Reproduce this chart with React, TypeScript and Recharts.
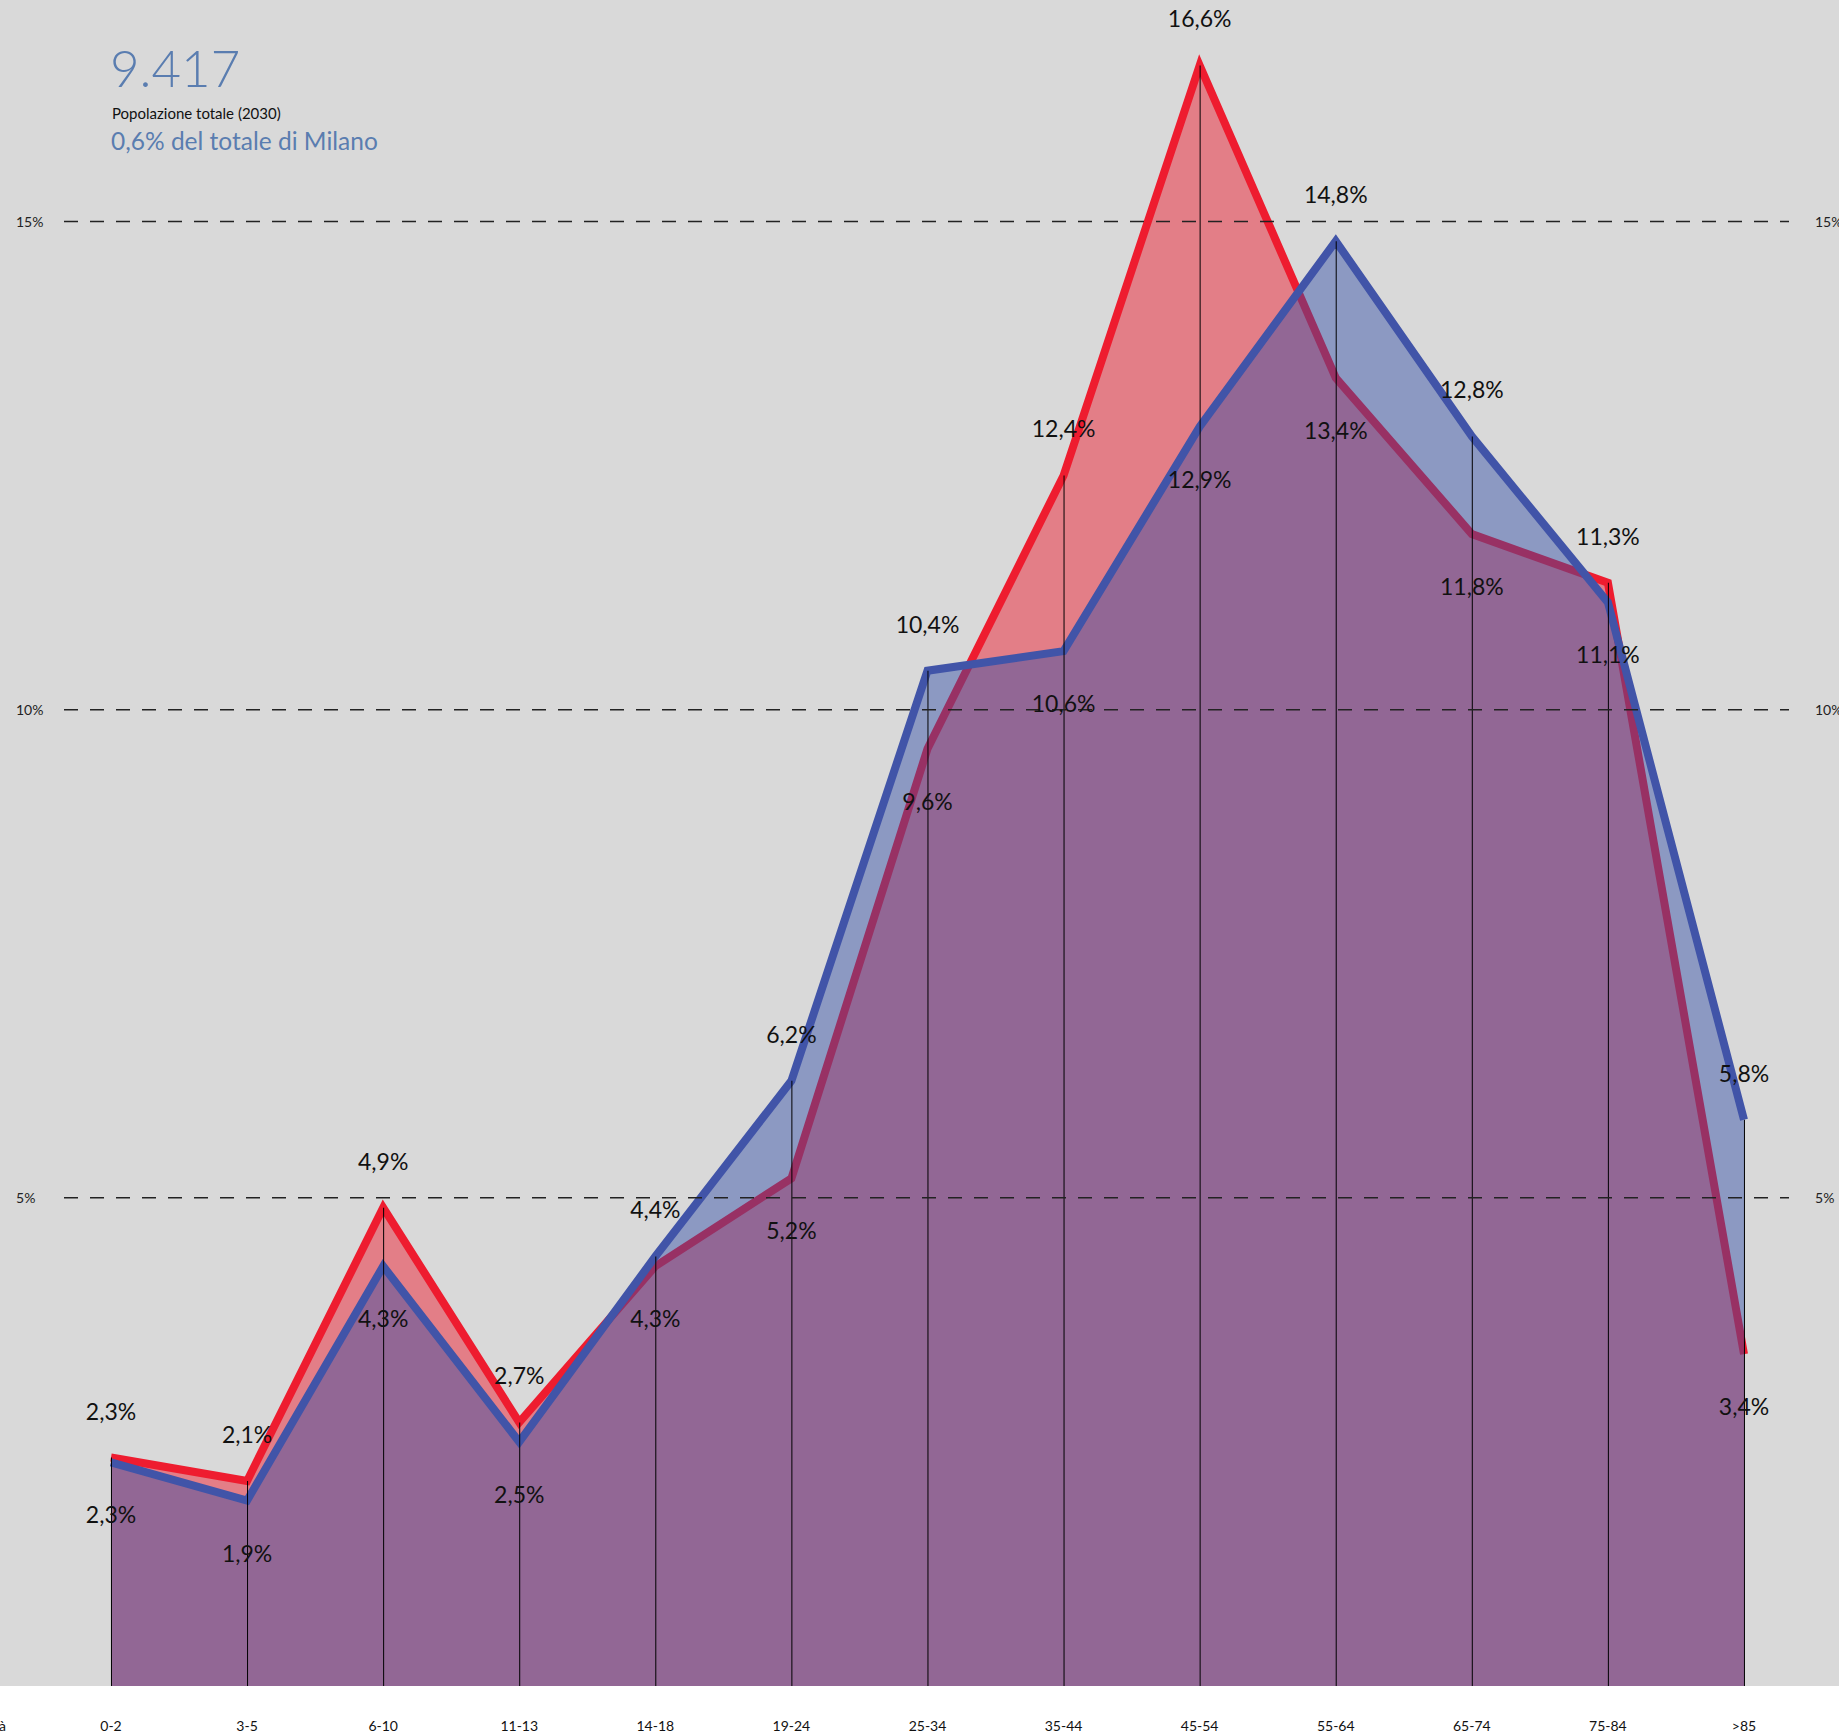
import React from 'react';
import { ComposedChart, Area, Bar, XAxis, YAxis, LabelList, ReferenceLine } from 'recharts';

const categories = ['0-2', '3-5', '6-10', '11-13', '14-18', '19-24', '25-34', '35-44', '45-54', '55-64', '65-74', '75-84', '>85'];
const redValues = [2.34, 2.1, 4.9, 2.7, 4.3, 5.2, 9.6, 12.4, 16.6, 13.4, 11.8, 11.3, 3.4];
const blueValues = [2.29, 1.9, 4.3, 2.5, 4.4, 6.2, 10.4, 10.6, 12.9, 14.8, 12.8, 11.1, 5.8];
const yTicks = [5, 10, 15];
const axisTitle = 'Età';
const totalValue = '9.417';
const totalCaption = 'Popolazione totale (2030)';
const shareCaption = '0,6% del totale di Milano';

const data = categories.map((c, i) => ({
  idx: i,
  cat: c,
  red: redValues[i],
  blue: blueValues[i],
  top: Math.max(redValues[i], blueValues[i]),
}));

const FONT = 'Lato, "Open Sans", sans-serif';
const fmt = (v: number) => v.toFixed(1).replace('.', ',') + '%';

const makeLabel = (own: number[], other: number[]) => (props: any) => {
  const { x, y, index } = props;
  if (x == null || y == null) return null;
  const above = own[index] >= other[index];
  return (
    <text
      x={x}
      y={above ? y - 47 : y + 52}
      textAnchor="middle"
      dominantBaseline="central"
      fontFamily={FONT}
      fontSize={23}
      fill="#111"
    >
      {fmt(own[index])}
    </text>
  );
};

const makeGridShape = (value: number) => (props: any) => {
  const y = props.y1;
  if (y == null) return null;
  return (
    <g>
      <line x1={64} x2={1789} y1={y} y2={y} stroke="#222" strokeWidth={1.5} strokeDasharray="14 12" />
      <text x={16} y={y} dominantBaseline="central" fontFamily={FONT} fontSize={14} fill="#222">
        {value}%
      </text>
      <text x={1815} y={y} dominantBaseline="central" fontFamily={FONT} fontSize={14} fill="#222">
        {value}%
      </text>
    </g>
  );
};

const XTick = (props: any) => {
  const { x, y, payload } = props;
  return (
    <g>
      {payload.value === 0 && (
        <text x={6} y={y + 39} textAnchor="end" dominantBaseline="central" fontFamily={FONT} fontSize={14} fill="#111">
          {axisTitle}
        </text>
      )}
      <text x={x} y={y + 39} textAnchor="middle" dominantBaseline="central" fontFamily={FONT} fontSize={14} fill="#111">
        {categories[payload.value]}
      </text>
    </g>
  );
};

export default function App() {
  return (
    <div style={{ position: 'absolute', left: 0, top: 0, width: 1839, height: 1735, background: '#fff' }}>
      <div style={{ position: 'absolute', left: 0, top: 0, width: 1839, height: 1686, background: '#d9d9d9' }} />
      <div style={{ position: 'absolute', left: 0, top: 0 }}>
        <ComposedChart
          width={1839}
          height={1735}
          data={data}
          margin={{ top: 0, right: 95, bottom: 0, left: 111 }}
        >
          <YAxis type="number" domain={[0, 17.27]} allowDataOverflow hide width={0} />
          <XAxis
            dataKey="idx"
            type="number"
            domain={[0, 12]}
            ticks={categories.map((_, i) => i)}
            height={49}
            axisLine={false}
            tickLine={false}
            tickSize={0}
            tickMargin={0}
            tick={<XTick />}
            interval={0}
          />
          {yTicks.map((v) => (
            <ReferenceLine key={v} y={v} ifOverflow="visible" shape={makeGridShape(v)} />
          ))}
          <Area
            type="linear"
            dataKey="red"
            stroke="#ee1c2f"
            strokeWidth={8}
            fill="#ee1c2f"
            fillOpacity={0.48}
            dot={false}
            activeDot={false}
            isAnimationActive={false}
          >
            <LabelList dataKey="red" content={makeLabel(redValues, blueValues)} />
          </Area>
          <Area
            type="linear"
            dataKey="blue"
            stroke="#4154a8"
            strokeWidth={8}
            fill="#2f4ca6"
            fillOpacity={0.45}
            dot={false}
            activeDot={false}
            isAnimationActive={false}
          >
            <LabelList dataKey="blue" content={makeLabel(blueValues, redValues)} />
          </Area>
          <Bar dataKey="top" fill="#000" barSize={1} isAnimationActive={false} />
        </ComposedChart>
      </div>
      <div style={{ position: 'absolute', left: 110, top: 40, fontFamily: FONT, fontSize: 51, fontWeight: 300, color: '#5a7db0', lineHeight: '56px' }}>
        {totalValue}
      </div>
      <div style={{ position: 'absolute', left: 112, top: 104, fontFamily: FONT, fontSize: 15, color: '#111', lineHeight: '18px' }}>
        {totalCaption}
      </div>
      <div style={{ position: 'absolute', left: 111, top: 126, fontFamily: FONT, fontSize: 24.5, color: '#5a7db0', lineHeight: '30px' }}>
        {shareCaption}
      </div>
    </div>
  );
}
